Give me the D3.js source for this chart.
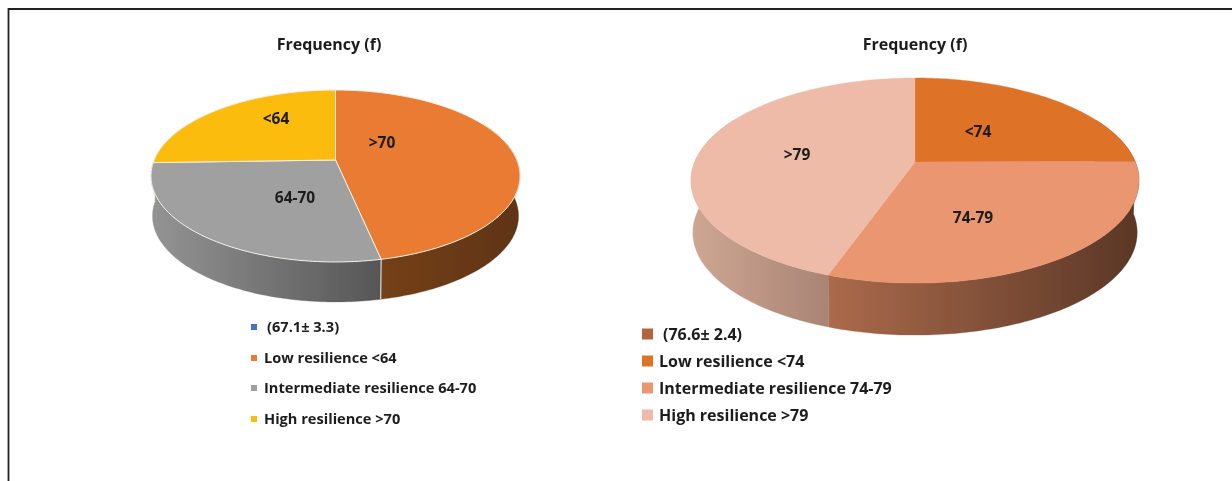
<!DOCTYPE html>
<html><head><meta charset="utf-8">
<script src="https://cdn.jsdelivr.net/npm/d3@7"></script>
<style>html,body{margin:0;padding:0;background:#fff}svg{display:block}
text{font-family:"Open Sans",Lato,sans-serif;font-weight:700;fill:#1c1c1c}</style>
</head><body><svg id="c" width="1232" height="481"></svg>
<script>
const leftSliceLabels = [">70", "64-70", "<64"];
const leftValues = [46.7, 27.8, 25.5];
const leftColors = ["#e97c30", "#a0a0a0", "#fbbc0e"];
const leftSideColors = [["#74401a", "#5f3412"], ["#949494", "#565656"], ["#a0a0a0", "#a0a0a0"]];
const leftLegend = ["(67.1\u00b1 3.3)", "Low resilience <64", "Intermediate resilience 64-70", "High resilience >70"];
const leftLegendColors = ["#4472c4", "#e97c30", "#a0a0a0", "#fbbc0e"];

const rightSliceLabels = ["<74", "74-79", ">79"];
const rightValues = [24.9, 30.4, 44.7];
const rightColors = ["#de7227", "#ea9670", "#edbba7"];
const rightSideColors = [["#6a3f28", "#6a3f28"], ["#ab6a4c", "#5a3726"], ["#cfa694", "#a98474"]];
const rightLegend = ["(76.6\u00b1 2.4)", "Low resilience <74", "Intermediate resilience 74-79", "High resilience >79"];
const rightLegendColors = ["#b5643a", "#de7227", "#ea9670", "#edbba7"];

const title = "Frequency (f)";

const svg = d3.select("#c");
const defs = svg.append("defs");
defs.append("filter").attr("id", "soft").attr("filterUnits", "userSpaceOnUse")
  .attr("x", 0).attr("y", 0).attr("width", 1232).attr("height", 481)
  .append("feGaussianBlur").attr("stdDeviation", 0.55);
const root = svg.append("g").attr("filter", "url(#soft)");
root.append("path").attr("d", "M8.5,490V9H1240")
  .attr("fill", "none").attr("stroke", "#222").attr("stroke-width", 1.8);

let gid = 0;
function drawPie(o) {
  const g = root.append("g");
  const pie = d3.pie().sort(null)(o.values);
  // perspective projection of the disc
  const proj = (a, dy, sx) => {
    const u = Math.sin(a), v = -Math.cos(a), w = 1 / (1 - o.k * v);
    return [o.cx + o.R * sx * u * w, o.cy + dy + o.S * v * w];
  };
  const step = Math.PI / 180;
  const arcPts = (a0, a1, dy, sx) => {
    const n = Math.max(2, Math.ceil((a1 - a0) / step));
    return d3.range(n + 1).map(i => proj(a0 + (a1 - a0) * i / n, dy, sx));
  };
  const line = d3.line();
  // front wall, only the part that faces the viewer
  pie.forEach((s, i) => {
    const a0 = Math.max(s.startAngle, Math.PI * 0.35), a1 = Math.min(s.endAngle, Math.PI * 1.65);
    if (a1 <= a0) return;
    const pts = arcPts(a0, a1, 0, 1).concat(arcPts(a0, a1, o.depth, o.bottomScale).reverse());
    const id = "sg" + (gid++);
    const xs = d3.extent(pts, p => p[0]);
    const gr = defs.append("linearGradient").attr("id", id).attr("gradientUnits", "userSpaceOnUse")
      .attr("x1", xs[0]).attr("x2", xs[1]).attr("y1", 0).attr("y2", 0);
    gr.append("stop").attr("offset", 0).attr("stop-color", o.sideColors[i][0]);
    gr.append("stop").attr("offset", 1).attr("stop-color", o.sideColors[i][1]);
    g.append("path").attr("d", line(pts) + "Z").attr("fill", `url(#${id})`)
      .attr("stroke", `url(#${id})`).attr("stroke-width", 0.3);
    if (o.edge && s.startAngle >= Math.PI * 0.35) {
      g.append("path").attr("d", line([proj(s.startAngle, 0, 1), proj(s.startAngle, o.depth, o.bottomScale)]))
        .attr("stroke", o.edge).attr("stroke-width", 1).attr("fill", "none");
    }
  });
  // top face
  pie.forEach((s, i) => {
    const pts = [[o.cx, o.cy]].concat(arcPts(s.startAngle, s.endAngle, 0, 1));
    g.append("path").attr("d", line(pts) + "Z").attr("fill", o.colors[i])
      .attr("stroke", o.edge || o.colors[i]).attr("stroke-width", o.edge ? 1 : 0.4)
      .attr("stroke-linejoin", "round");
  });
  // slice labels
  pie.forEach((s, i) => {
    g.append("text").attr("x", o.labelPos[i][0]).attr("y", o.labelPos[i][1])
      .attr("text-anchor", "middle").attr("font-size", o.labelSize).text(o.labels[i]);
  });
  // title
  g.append("text").attr("x", o.titleX).attr("y", 50).attr("text-anchor", "middle")
    .attr("font-size", 16).text(title);
  // legend
  o.legend.forEach((t, i) => {
    const y = o.legendY[i];
    g.append("rect").attr("x", o.swX).attr("y", y - o.sw / 2).attr("width", o.sw).attr("height", o.sw)
      .attr("fill", o.legendColors[i]);
    g.append("text").attr("x", i === 0 ? o.textX0 : o.textX).attr("y", y + o.legendSize * 0.35)
      .attr("font-size", o.legendSize).text(t);
  });
}

drawPie({
  cx: 335.5, cy: 160, R: 181.3, S: 83, k: 0.186, depth: 40, bottomScale: 0.992,
  values: leftValues, colors: leftColors, sideColors: leftSideColors, labels: leftSliceLabels,
  labelPos: [[382, 148], [295, 203], [276, 124]], labelSize: 15.5, edge: "#f4efe6",
  titleX: 329, legend: leftLegend, legendColors: leftLegendColors,
  legendY: [327, 358, 388, 419], swX: 251, sw: 6, textX0: 267, textX: 264, legendSize: 14.6
});
drawPie({
  cx: 915, cy: 162, R: 220.3, S: 99.2, k: 0.181, depth: 52, bottomScale: 0.992,
  values: rightValues, colors: rightColors, sideColors: rightSideColors, labels: rightSliceLabels,
  labelPos: [[978, 137], [973, 223], [797, 160]], labelSize: 15.5,
  titleX: 915, legend: rightLegend, legendColors: rightLegendColors,
  legendY: [334, 361, 388, 415], swX: 642, sw: 11, textX0: 663, textX: 659, legendSize: 16
});
</script></body></html>
